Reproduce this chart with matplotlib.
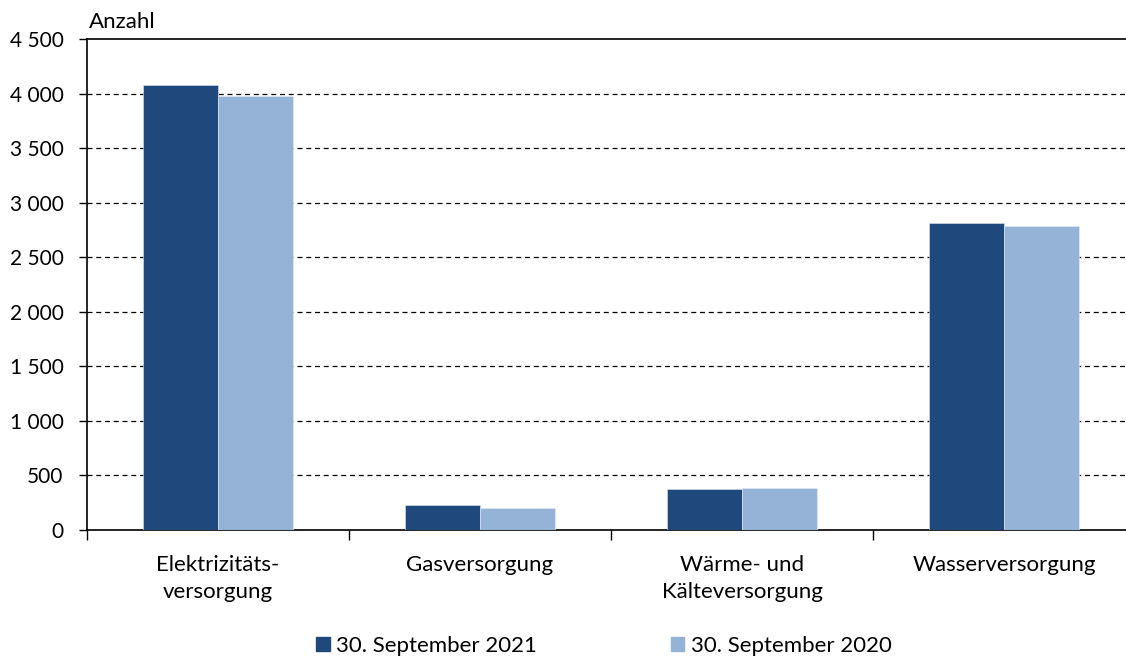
import matplotlib
matplotlib.use("Agg")
import matplotlib.pyplot as plt
import numpy as np
from matplotlib.patches import Patch

categories = ["Elektrizitäts-\nversorgung", "Gasversorgung", "Wärme- und\nKälteversorgung", "Wasserversorgung"]
series_2021 = [4078, 225, 376, 2816]
series_2020 = [3980, 202, 385, 2782]
legend_labels = ["30. September 2021", "30. September 2020"]
yticks = [0, 500, 1000, 1500, 2000, 2500, 3000, 3500, 4000, 4500]
ytick_labels = ["0", "500", "1 000", "1 500", "2 000", "2 500", "3 000", "3 500", "4 000", "4 500"]

plt.rcParams['font.family'] = ['Lato', 'DejaVu Sans']
dark = "#1F497C"
light = "#95B3D7"

W, H = 1126, 659
fig = plt.figure(figsize=(W/100, H/100), dpi=100)
left, right, top, bottom = 87, 1135, 39, 530
ax = fig.add_axes([left/W, 1-bottom/H, (right-left)/W, (bottom-top)/H])

x = np.arange(len(categories)) + 0.5
bw = 75/262
ax.bar(x - bw/2, series_2021, width=bw, color=dark, zorder=3, edgecolor='#dfe6f0', linewidth=0.4)
ax.bar(x + bw/2, series_2020, width=bw, color=light, zorder=3, edgecolor='#e8eef6', linewidth=0.4)

ax.set_xlim(0, 4)
ax.set_ylim(0, 4500)
ax.set_yticks(yticks)
ax.set_yticklabels(ytick_labels, fontsize=15)
for y in yticks[1:-1]:
    ax.axhline(y, color='black', lw=0.9, ls=(0, (4, 3)), zorder=1)
ax.axhline(4500, color='black', lw=1.2, zorder=1, clip_on=False)

ax.set_xticks([0, 1, 2, 3, 4])
ax.set_xticklabels([])
ax.set_xticks(x, minor=True)
ax.set_xticklabels(categories, minor=True, fontsize=16, linespacing=1.45)
ax.tick_params(axis='x', which='minor', length=0, pad=18)
ax.tick_params(axis='x', which='major', length=7, width=1, direction='out')
ax.tick_params(axis='y', length=6, width=1, direction='out', pad=11)

for s in ['top', 'right']:
    ax.spines[s].set_visible(False)
ax.spines['left'].set_linewidth(1.2)
ax.spines['bottom'].set_linewidth(1.2)

fig.text(89/W, 1-22/H, "Anzahl", fontsize=16, ha='left', va='center')

handles = [Patch(color=dark), Patch(color=light)]
fig.legend(handles, legend_labels, loc='center', bbox_to_anchor=(604/W, 1-646/H),
           ncol=2, frameon=False, fontsize=16, handlelength=0.6, handleheight=0.6,
           handletextpad=0.3, columnspacing=6.0)

fig.savefig("out.png", dpi=100)
